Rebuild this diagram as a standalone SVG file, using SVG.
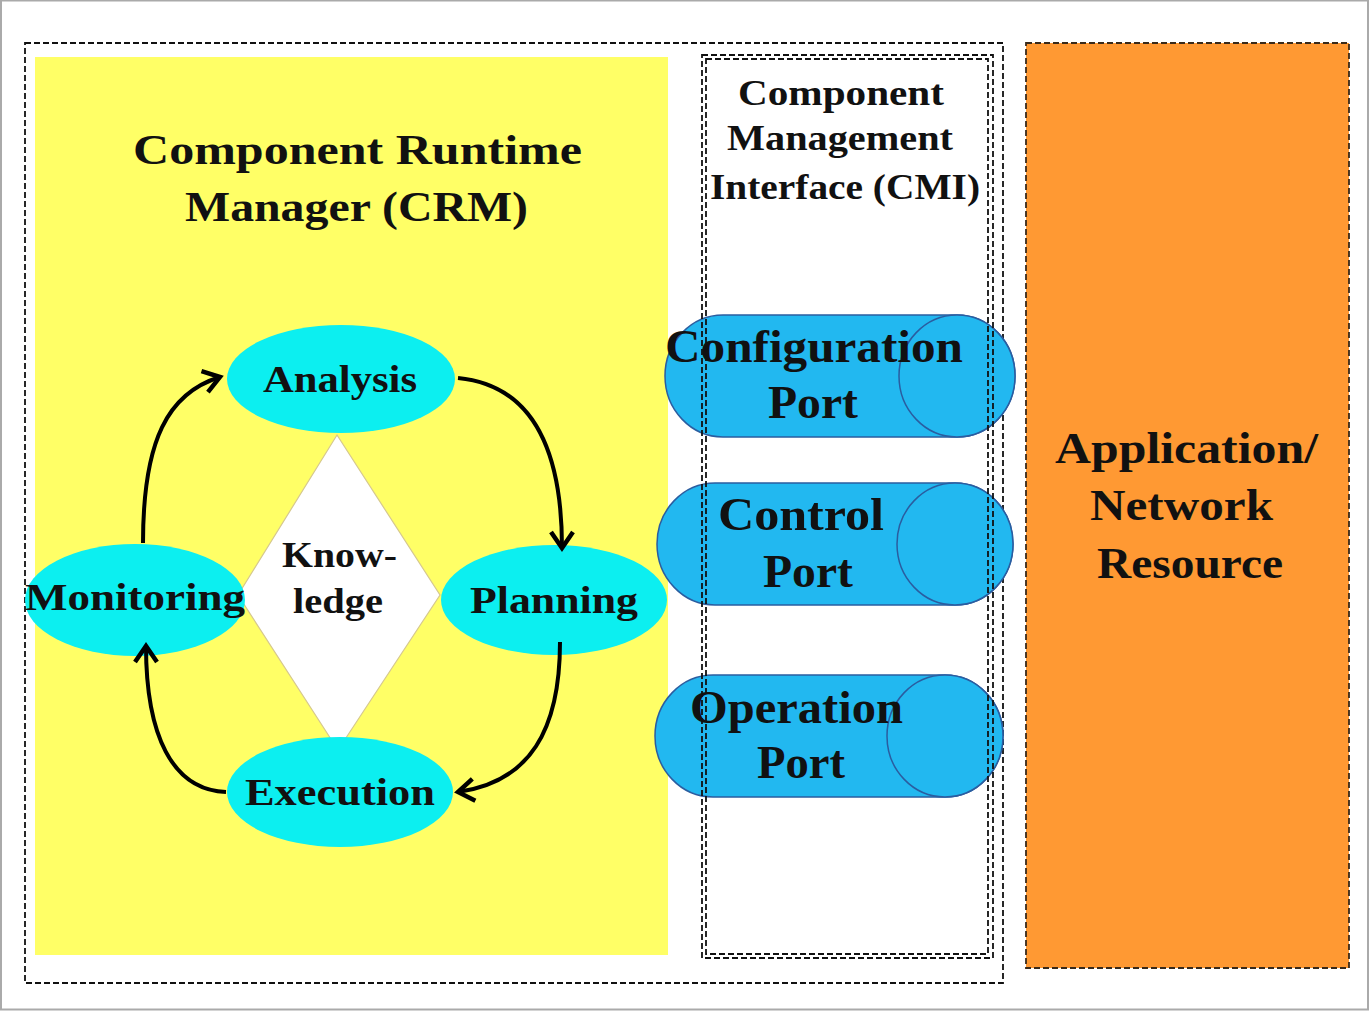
<svg xmlns="http://www.w3.org/2000/svg" width="1370" height="1012" viewBox="0 0 1370 1012">
  <style>
    text { font-family: "Liberation Serif", "DejaVu Serif", serif; font-weight: bold; fill: #111; }
    .title { font-size: 42px; }
    .cmi { font-size: 36px; }
    .port-label { font-size: 46px; }
    .phase-label { font-size: 38px; }
    .res-label { font-size: 44px; }
    .phase { fill: #0CEFF0; stroke: none; }
    .port { fill: #22B8F0; stroke: #2A5DA0; stroke-width: 1.5; }
    .dash { fill: none; stroke: #111; stroke-width: 1.8; stroke-dasharray: 6 3; }
    .flow { fill: none; stroke: #000; stroke-width: 4; marker-end: url(#chevron); }
  </style>
  <defs>
    <marker id="chevron" markerUnits="userSpaceOnUse" viewBox="-20 -14 24 28" refX="0" refY="0" markerWidth="24" markerHeight="28" orient="auto" overflow="visible">
      <path d="M-16,-11 L0,0 L-16,11" fill="none" stroke="#000" stroke-width="4.5" stroke-linejoin="miter"/>
    </marker>
  </defs>

  <!-- page -->
  <rect x="0" y="0" width="1370" height="1012" fill="#fff"/>
  <rect x="1" y="0.5" width="1367" height="1009" fill="none" stroke="#aaa" stroke-width="2"/>

  <!-- outer dashed boundary around CRM and CMI -->
  <rect id="boundary" class="dash" x="25" y="43" width="978" height="940"/>

  <!-- CRM -->
  <g id="crm">
    <rect x="35" y="57" width="633" height="898" fill="#FFFF66"/>
    <text class="title" x="133" y="164" textLength="449" lengthAdjust="spacingAndGlyphs">Component Runtime</text>
    <text class="title" x="185" y="221" textLength="343" lengthAdjust="spacingAndGlyphs">Manager (CRM)</text>
  </g>

  <!-- knowledge diamond -->
  <g id="knowledge">
    <polygon points="337,435 440,595 338,750 238,595" fill="#fff" stroke="#d6c88e" stroke-width="1.2"/>
    <text x="282" y="567" font-size="36" textLength="115" lengthAdjust="spacingAndGlyphs">Know-</text>
    <text x="293" y="613" font-size="36" textLength="90" lengthAdjust="spacingAndGlyphs">ledge</text>
  </g>

  <g id="analysis">
    <ellipse class="phase" cx="341" cy="379" rx="114" ry="54"/>
    <text class="phase-label" x="263" y="392" textLength="154" lengthAdjust="spacingAndGlyphs">Analysis</text>
  </g>
  <g id="planning">
    <ellipse class="phase" cx="554" cy="600" rx="113" ry="55"/>
    <text class="phase-label" x="470" y="613" textLength="168" lengthAdjust="spacingAndGlyphs">Planning</text>
  </g>
  <g id="execution">
    <ellipse class="phase" cx="340" cy="792" rx="113" ry="55"/>
    <text class="phase-label" x="245" y="805" textLength="190" lengthAdjust="spacingAndGlyphs">Execution</text>
  </g>
  <g id="monitoring">
    <ellipse class="phase" cx="135" cy="600" rx="110" ry="56"/>
    <text class="phase-label" x="25" y="610" textLength="220" lengthAdjust="spacingAndGlyphs">Monitoring</text>
  </g>

  <!-- control loop -->
  <g id="connectors">
    <path class="flow" d="M143,543 C143,440 168,393 220,377"/>
    <path class="flow" d="M458,378 C530,385 562,445 562,548"/>
    <path class="flow" d="M560,642 C560,730 530,782 458,792"/>
    <path class="flow" d="M226,792 C172,790 146,735 146,646"/>
  </g>

  <!-- CMI ports -->
  <g id="configuration-port">
    <rect class="port" x="665" y="315" width="350" height="122" rx="58" ry="61"/>
    <ellipse class="port" cx="957" cy="376" rx="58" ry="61"/>
    <text class="port-label" x="665" y="362" textLength="298" lengthAdjust="spacingAndGlyphs">Configuration</text>
    <text class="port-label" x="768" y="418" textLength="90" lengthAdjust="spacingAndGlyphs">Port</text>
  </g>
  <g id="control-port">
    <rect class="port" x="657" y="483" width="356" height="122" rx="58" ry="61"/>
    <ellipse class="port" cx="955" cy="544" rx="58" ry="61"/>
    <text class="port-label" x="718" y="530" textLength="166" lengthAdjust="spacingAndGlyphs">Control</text>
    <text class="port-label" x="763" y="587" textLength="90" lengthAdjust="spacingAndGlyphs">Port</text>
  </g>
  <g id="operation-port">
    <rect class="port" x="655" y="675" width="348" height="122" rx="58" ry="61"/>
    <ellipse class="port" cx="945" cy="736" rx="58" ry="61"/>
    <text class="port-label" x="690" y="723" textLength="213" lengthAdjust="spacingAndGlyphs">Operation</text>
    <text class="port-label" x="757" y="778" textLength="88" lengthAdjust="spacingAndGlyphs">Port</text>
  </g>

  <!-- CMI frame (double dashed) -->
  <g id="cmi">
    <rect class="dash" x="702" y="55" width="291" height="903" stroke-width="1.5"/>
    <rect class="dash" x="706" y="59" width="282" height="895" stroke-width="1.5"/>
    <text class="cmi" x="738" y="105" textLength="206" lengthAdjust="spacingAndGlyphs">Component</text>
    <text class="cmi" x="727" y="150" textLength="226" lengthAdjust="spacingAndGlyphs">Management</text>
    <text class="cmi" x="710" y="199" textLength="270" lengthAdjust="spacingAndGlyphs">Interface (CMI)</text>
  </g>

  <!-- application / network resource -->
  <g id="resource">
    <rect x="1026" y="43" width="323" height="925" fill="#FF9933" stroke="#3a2a1a" stroke-width="1.8" stroke-dasharray="6 3"/>
    <text class="res-label" x="1055" y="463" textLength="263" lengthAdjust="spacingAndGlyphs">Application/</text>
    <text class="res-label" x="1090" y="520" textLength="183" lengthAdjust="spacingAndGlyphs">Network</text>
    <text class="res-label" x="1097" y="578" textLength="186" lengthAdjust="spacingAndGlyphs">Resource</text>
  </g>
</svg>
